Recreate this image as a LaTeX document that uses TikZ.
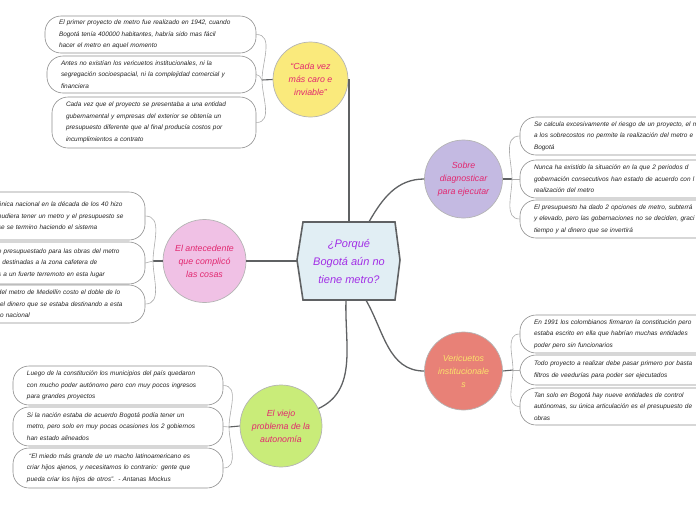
\documentclass[tikz,border=0pt]{standalone}
\usepackage{fontspec}
\setmainfont{Liberation Sans}
\usetikzlibrary{calc}
\definecolor{linkgray}{HTML}{5F6163}
\definecolor{bracegray}{HTML}{ABABAB}
\definecolor{ringgray}{HTML}{B4B4B4}
\definecolor{leafgray}{HTML}{8E8E8E}
\definecolor{leaftext}{HTML}{262626}
\definecolor{hubfill}{HTML}{E1EEF4}
\definecolor{hubtext}{HTML}{A22EE6}
\definecolor{yellowfill}{HTML}{FAEA7C}
\definecolor{pinkfill}{HTML}{F0C1E5}
\definecolor{lilacfill}{HTML}{C4BAE2}
\definecolor{salmonfill}{HTML}{E88177}
\definecolor{limefill}{HTML}{C9EC79}
\definecolor{rosetext}{HTML}{E2276F}
\definecolor{goldtext}{HTML}{FBE36C}
\newcommand{\leaffont}{\fontsize{6.45}{11.6}\selectfont\itshape}
\newcommand{\topicfont}{\fontsize{8.8}{13}\selectfont\itshape}
\tikzset{
    leaf/.style={rectangle, draw=leafgray, fill=white, line width=0.6pt, rounded corners=16pt, align=left, inner xsep=14pt, inner ysep=2pt, font=\leaffont, text=leaftext},
    topic/.style={circle, draw=ringgray, line width=0.7pt, align=center, font=\topicfont, text=rosetext, inner sep=1pt},
    link/.style={draw=linkgray, line width=1.3pt},
    stem/.style={draw=linkgray, line width=1.1pt},
    brace/.style={draw=bracegray, line width=0.6pt}
}

\begin{document}
\begin{tikzpicture}[x=1pt, y=1pt]
    \useasboundingbox (0,0) rectangle (696,-520);
    \clip (0,0) rectangle (696,-520);

    % central question
    \coordinate (hubc) at (349,-261);
    \draw[line width=1.6pt, draw=linkgray, fill=hubfill]
        ($(hubc)+(-46,39)$) -- ($(hubc)+(46,39)$) -- ($(hubc)+(51,1)$) -- ($(hubc)+(46,-39)$)
        -- ($(hubc)+(-46,-39)$) -- ($(hubc)+(-52,1)$) -- cycle;
    \node[minimum width=92pt, minimum height=78pt, align=center, text=hubtext,
          font=\fontsize{11}{18}\selectfont\itshape] (hub) at (hubc) {¿Porqué\\Bogotá aún no\\tiene metro?};

    % topics
    \node[topic, fill=yellowfill, minimum size=75pt] (yc) at (310.5,-79.5) {“Cada vez\\más caro e\\inviable”};
    \node[topic, fill=pinkfill, minimum size=83pt] (kc) at (204.5,-261) {El antecedente\\que complicó\\las cosas};
    \node[topic, fill=lilacfill, minimum size=78pt] (pc) at (463.5,-179) {Sobre\\diagnosticar\\para ejecutar};
    \node[topic, fill=salmonfill, minimum size=78pt, text=goldtext] (sc) at (463.5,-371) {Vericuetos\\institucionale\\s};
    \node[topic, fill=limefill, minimum size=82pt] (gc) at (281,-426) {El viejo\\problema de la\\autonomía};

    \draw[link] (hub.north) |- (yc.east);
    \draw[link] ([xshift=-6pt]hub.west) -- (kc.east);
    \draw[link] ([xshift=20pt]hub.north) to[out=60, in=180] (pc.west);
    \draw[link] ([xshift=17pt]hub.south) to[out=-60, in=180] (sc.west);
    \draw[link] ([xshift=-3pt]hub.south) to[out=-92, in=25] (gc.25);

    % leaves of "Cada vez mas caro"
    \node[leaf, text width=183pt, minimum height=37pt] (y1) at (150.5,-34.5)
        {El primer proyecto de metro fue realizado en 1942, cuando\\Bogotá tenía 400000 habitantes, habría sido mas fácil\\hacer el metro en aquel momento};
    \node[leaf, text width=181pt, minimum height=37pt] (y2) at (151.5,-74.5)
        {Antes no existían los vericuetos institucionales, ni la\\segregación socioespacial, ni la complejidad comercial y\\financiera};
    \node[leaf, text width=176pt, minimum height=51pt] (y3) at (154,-122.5)
        {Cada vez que el proyecto se presentaba a una entidad\\gubernamental y empresas del exterior se obtenía un\\presupuesto diferente que al final producía costos por\\incumplimientos a contrato};
    \coordinate (yj) at (262,-80);
    \draw[stem] (yc.west) -- (yj);
    \draw[brace] (yj) to[out=90, in=0] (y1.east);
    \draw[brace] (yj) to[out=120, in=0] (y2.east);
    \draw[brace] (yj) to[out=-90, in=0] (y3.east);

    % leaves of "El antecedente"
    \node[leaf, text width=133pt, minimum height=48pt] (k1) at (64.5,-216)
        {ónica nacional en la década de los 40 hizo\\pudiera tener un metro y el presupuesto se\\se se termino haciendo el sistema};
    \node[leaf, text width=133pt, minimum height=42pt] (k2) at (64.5,-263)
        {o presupuestado para las obras del metro\\\ \ destinadas a la zona cafetera de\\s a un fuerte terremoto en esta lugar};
    \node[leaf, text width=133pt, minimum height=38pt] (k3) at (64.5,-304)
        {del metro de Medellín costo el doble de lo\\\ el dinero que se estaba destinando a esta\\ro nacional};
    \coordinate (kj) at (153,-261);
    \draw[stem] (kc.west) -- (kj);
    \draw[brace] (kj) to[out=90, in=0] (k1.east);
    \draw[brace] (kj) -- (k2.east);
    \draw[brace] (kj) to[out=-90, in=0] (k3.east);

    % leaves of "Sobre diagnosticar"
    \node[leaf, text width=192pt, minimum height=38pt] (p1) at (630,-136)
        {Se calcula excesivamente el riesgo de un proyecto, el m\\a los sobrecostos no permite la realización del metro e\\Bogotá};
    \node[leaf, text width=192pt, minimum height=38pt] (p2) at (630,-179)
        {Nunca ha existido la situación en la que 2 periodos d\\gobernación consecutivos han estado de acuerdo con l\\realización del metro};
    \node[leaf, text width=192pt, minimum height=38pt] (p3) at (630,-219)
        {El presupuesto ha dado 2 opciones de metro, subterrá\\y elevado, pero las gobernaciones no se deciden, graci\\tiempo y al dinero que se invertirá};
    \coordinate (pj) at (512,-179);
    \draw[stem] (pc.east) -- (pj);
    \draw[brace] (pj) to[out=90, in=180] (p1.west);
    \draw[brace] (pj) -- (p2.west);
    \draw[brace] (pj) to[out=-90, in=180] (p3.west);

    % leaves of "Vericuetos institucionales"
    \node[leaf, text width=192pt, minimum height=38pt] (s1) at (630,-334)
        {En 1991 los colombianos firmaron la constitución pero\\estaba escrito en ella que habrían muchas entidades\\poder pero sin funcionarios};
    \node[leaf, text width=192pt, minimum height=30pt] (s2) at (630,-370)
        {Todo proyecto a realizar debe pasar primero por basta\\filtros de veedurías para poder ser ejecutados};
    \node[leaf, text width=192pt, minimum height=37pt] (s3) at (630,-406.5)
        {Tan solo en Bogotá hay nueve entidades de control\\autónomas, su única articulación es el presupuesto de\\obras};
    \coordinate (sj) at (513,-370);
    \draw[stem] (sc.east) -- (sj);
    \draw[brace] (sj) to[out=90, in=180] (s1.west);
    \draw[brace] (sj) -- (s2.west);
    \draw[brace] (sj) to[out=-90, in=180] (s3.west);

    % leaves of "El viejo problema"
    \node[leaf, text width=182pt, minimum height=39pt] (g1) at (118,-385.5)
        {Luego de la constitución los municipios del país quedaron\\con mucho poder autónomo pero con muy pocos ingresos\\para grandes proyectos};
    \node[leaf, text width=182pt, minimum height=39pt] (g2) at (118,-426.5)
        {Si la nación estaba de acuerdo Bogotá podía tener un\\metro, pero solo en muy pocas ocasiones los 2 gobiernos\\han estado alineados};
    \node[leaf, text width=182pt, minimum height=40pt] (g3) at (118,-468)
        {\ “El miedo más grande de un macho latinoamericano es\\criar hijos ajenos, y necesitamos lo contrario: gente que\\pueda criar los hijos de otros”. - Antanas Mockus};
    \coordinate (gj) at (229,-427);
    \draw[stem] (gc.west) -- (gj);
    \draw[brace] (gj) to[out=90, in=0] (g1.east);
    \draw[brace] (gj) -- (g2.east);
    \draw[brace] (gj) to[out=-90, in=0] (g3.east);
\end{tikzpicture}
\end{document}
